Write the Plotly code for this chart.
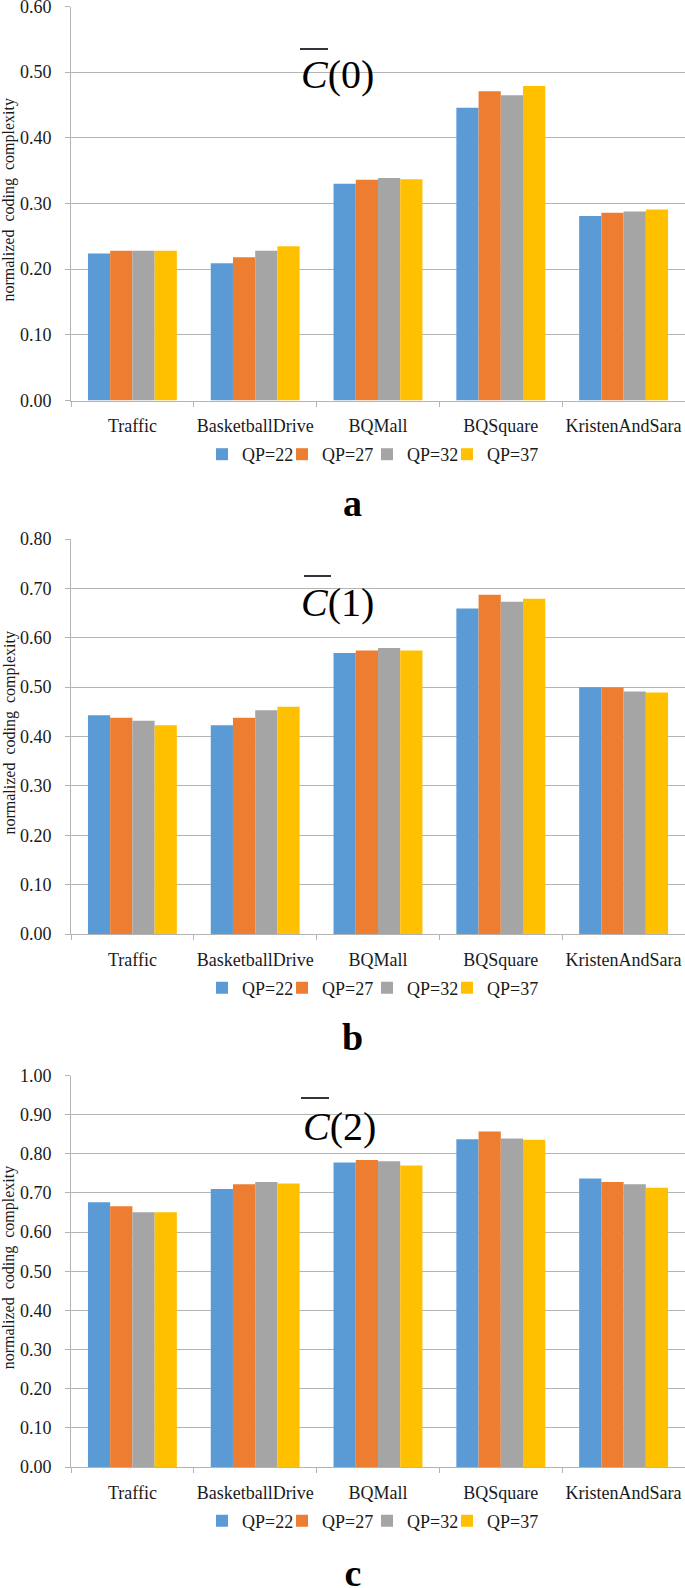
import plotly.graph_objects as go

W, H = 685, 1588

categories = ["Traffic", "BasketballDrive", "BQMall", "BQSquare", "KristenAndSara"]
series_names = ["QP=22", "QP=27", "QP=32", "QP=37"]
colors = ["#5b9bd5", "#ed7d31", "#a5a5a5", "#ffc000"]

# panel a: C(0)
a_qp22 = [0.224, 0.209, 0.330, 0.446, 0.281]
a_qp27 = [0.228, 0.218, 0.336, 0.471, 0.286]
a_qp32 = [0.228, 0.228, 0.339, 0.465, 0.288]
a_qp37 = [0.228, 0.235, 0.337, 0.479, 0.291]

# panel b: C(1)
b_qp22 = [0.443, 0.423, 0.569, 0.659, 0.500]
b_qp27 = [0.438, 0.438, 0.574, 0.687, 0.499]
b_qp32 = [0.432, 0.453, 0.579, 0.673, 0.491]
b_qp37 = [0.423, 0.460, 0.574, 0.679, 0.489]

# panel c: C(2)
c_qp22 = [0.676, 0.710, 0.778, 0.837, 0.737]
c_qp27 = [0.666, 0.722, 0.784, 0.857, 0.728]
c_qp32 = [0.651, 0.728, 0.781, 0.839, 0.722]
c_qp37 = [0.651, 0.724, 0.770, 0.836, 0.713]

y_maxes = [0.6, 0.8, 1.0]
panel_titles = ["0", "1", "2"]
panel_letters = ["a", "b", "c"]

panels = [
    [a_qp22, a_qp27, a_qp32, a_qp37],
    [b_qp22, b_qp27, b_qp32, b_qp37],
    [c_qp22, c_qp27, c_qp32, c_qp37],
]

# layout geometry in pixels (top, bottom of each plot area)
plot_px = [(6.5, 400.5), (539, 934), (1075.5, 1467)]
x_left_px = 71
legend_sq_px = [222, 302, 387, 467]  # centre of each legend swatch

SERIF = "Liberation Serif, Times New Roman, serif"
TXT = "#1a1a1a"
GRID = "#b4b4b4"


def py(px):
    return 1 - px / H


def pxx(px):
    return px / W


fig = go.Figure()
layout = dict(
    width=W, height=H,
    margin=dict(l=0, r=0, t=0, b=0, autoexpand=False),
    paper_bgcolor="white", plot_bgcolor="white",
    barmode="group", bargap=0.276, bargroupgap=0.0,
    font=dict(family=SERIF, size=18, color=TXT),
)
annotations = []
shapes = []

for i, vals in enumerate(panels):
    n = "" if i == 0 else str(i + 1)
    xa, ya = "x" + n, "y" + n
    top, bot = plot_px[i]
    for s, name in enumerate(series_names):
        k = 4 * i + s + 1
        leg = "legend" if k == 1 else "legend" + str(k)
        fig.add_trace(go.Bar(
            x=categories, y=vals[s], name=name,
            marker=dict(color=colors[s], line=dict(width=0)),
            xaxis=xa, yaxis=ya, legend=leg, showlegend=True,
        ))
        layout[leg] = dict(
            orientation="h", xanchor="left", yanchor="middle",
            x=pxx(legend_sq_px[s] - 20), y=py(bot + 54),
            font=dict(family=SERIF, size=18, color=TXT),
            itemwidth=30, bgcolor="rgba(0,0,0,0)",
        )
    layout["xaxis" + n] = dict(
        domain=[pxx(x_left_px), 1], anchor=ya, automargin=False,
        type="category", showline=True, linecolor=GRID, linewidth=1,
        ticks="outside", tickson="boundaries", ticklen=5, tickcolor=GRID,
        showgrid=False, tickangle=0, ticklabeloverflow="allow",
        tickfont=dict(family=SERIF, size=18, color=TXT),
        ticklabelstandoff=9,
    )
    layout["yaxis" + n] = dict(
        domain=[py(bot), py(top)], anchor=xa, automargin=False,
        range=[0, y_maxes[i]], dtick=0.1, tickformat=".2f",
        showline=True, linecolor=GRID, linewidth=1,
        ticks="outside", ticklen=5, tickcolor=GRID,
        showgrid=True, gridcolor=GRID, gridwidth=1, zeroline=False,
        ticklabeloverflow="allow",
        tickfont=dict(family=SERIF, size=18, color=TXT),
        ticklabelstandoff=10,
    )
    # y-axis title
    annotations.append(dict(
        text="normalized\u00a0 coding\u00a0 complexity", textangle=-90,
        xref="paper", yref="paper", x=pxx(9), y=py((top + bot) / 2 - 4),
        xanchor="center", yanchor="middle", showarrow=False,
        font=dict(family=SERIF, size=16, color=TXT),
    ))
    # panel letter (the last one sits at the very bottom edge -> layout title)
    if i < 2:
        annotations.append(dict(
            text="<b>" + panel_letters[i] + "</b>",
            xref="paper", yref="paper", x=pxx(353), y=py(bot + 103),
            xanchor="center", yanchor="middle", showarrow=False,
            font=dict(family=SERIF, size=38, color="#000"),
        ))
    else:
        layout["title"] = dict(
            text="<b>" + panel_letters[i] + "</b>",
            xref="paper", yref="container", x=pxx(353), y=py(bot + 106),
            xanchor="center", yanchor="middle", automargin=False,
            font=dict(family=SERIF, size=38, color="#000"),
        )

# C-bar titles
title_pos = [(337, 75, 300, 328, 49), (337.5, 602, 304, 331, 576), (339, 1126, 301, 329, 1098)]
for i, (cx, cy, ox0, ox1, oy) in enumerate(title_pos):
    annotations.append(dict(
        text="<i>C</i>(" + panel_titles[i] + ")",
        xref="paper", yref="paper", x=pxx(cx), y=py(cy),
        xanchor="center", yanchor="middle", showarrow=False,
        font=dict(family=SERIF, size=40, color="#000"),
    ))
    shapes.append(dict(
        type="line", xref="paper", yref="paper",
        x0=pxx(ox0), x1=pxx(ox1), y0=py(oy), y1=py(oy),
        line=dict(color="#000", width=1.6),
    ))

layout["annotations"] = annotations
layout["shapes"] = shapes
fig.update_layout(**layout)
fig.write_html(
    "out.html",
    config={"displayModeBar": False},
    post_script="document.body.style.margin='0';document.body.style.overflow='hidden';",
)
